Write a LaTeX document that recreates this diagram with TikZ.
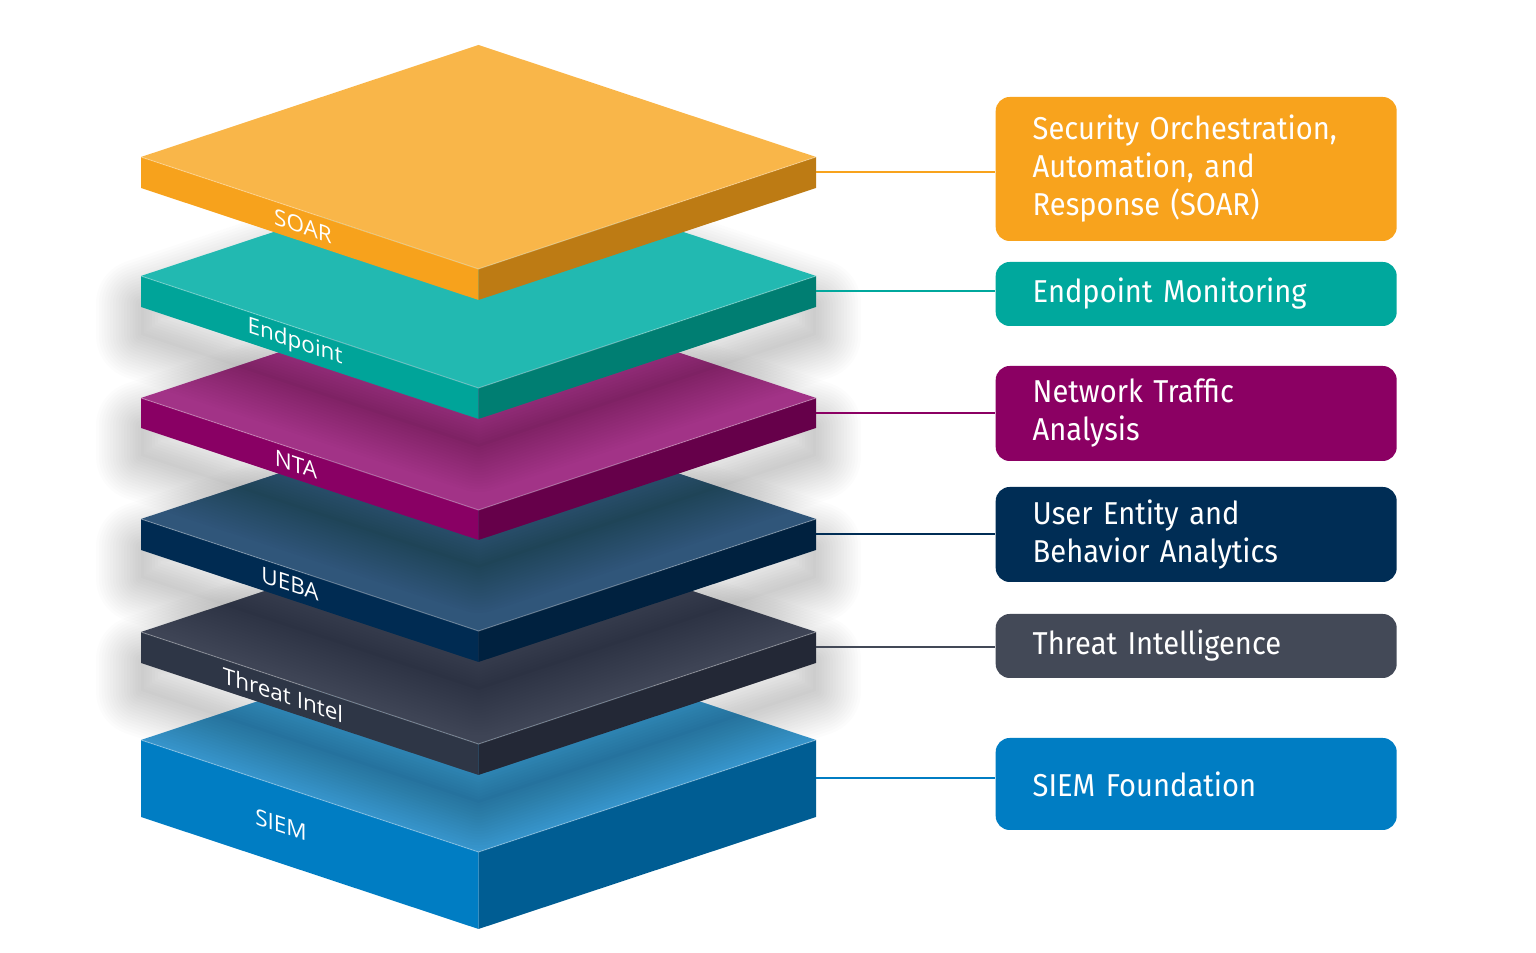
\documentclass[tikz,border=0pt]{standalone}
\usepackage{fontspec}
\setsansfont{Open Sans}
\newfontfamily\boxfont[FakeStretch=0.92]{Fira Sans}
\usepackage{xcolor}
\usepackage{tikz}
\hyphenpenalty=10000
\definecolor{soartop}{HTML}{F9B649}
\definecolor{soarleft}{HTML}{F7A21C}
\definecolor{soarright}{HTML}{BD7B14}
\definecolor{soarbox}{HTML}{F8A31D}
\definecolor{endtop}{HTML}{22B9B1}
\definecolor{endleft}{HTML}{00A499}
\definecolor{endright}{HTML}{007E72}
\definecolor{endbox}{HTML}{00A89D}
\definecolor{ntatop}{HTML}{A23387}
\definecolor{ntaleft}{HTML}{890064}
\definecolor{ntaright}{HTML}{66004A}
\definecolor{ntabox}{HTML}{8B0063}
\definecolor{uebatop}{HTML}{30567A}
\definecolor{uebaleft}{HTML}{002B52}
\definecolor{uebaright}{HTML}{00213F}
\definecolor{uebabox}{HTML}{002D55}
\definecolor{threattop}{HTML}{3E4455}
\definecolor{threatleft}{HTML}{2E3646}
\definecolor{threatright}{HTML}{232836}
\definecolor{threatbox}{HTML}{434957}
\definecolor{siemtop}{HTML}{3795CC}
\definecolor{siemleft}{HTML}{007DC3}
\definecolor{siemright}{HTML}{005D93}
\definecolor{siembox}{HTML}{007DC3}

% one slab: #1 y of left corner, #2 thickness, #3-#5 colours, #6 label, #7 label x, #8 name
\newcommand{\slab}[8]{%
  \fill[#4] (141,#1) -- (478.5,#1+112) -- (478.5,#1+112+#2) -- (141,#1+#2) -- cycle;
  \fill[#5] (478.5,#1+112) -- (816,#1) -- (816,#1+#2) -- (478.5,#1+112+#2) -- cycle;
  \fill[#3] (141,#1) -- (478.5,#1-112) -- (816,#1) -- (478.5,#1+112) -- cycle;
  \draw[white, opacity=.3, line width=.1mm] (141,#1) -- (478.5,#1+112) -- (816,#1);
  \node[slablabel] (#8label) at (#7,{#1+#2/2+(#7-141)*0.3314}) {#6};
  \coordinate (#8) at (816,#1+#2/2);
}
% soft shadow under a slab
\newcommand{\slabshadow}[2]{%
  \fill[black, opacity=.02]
    (141,#1+28) -- (478.5,#1-84) -- (816,#1+28) -- (816,#1+#2+28) -- (478.5,#1+#2+140) -- (141,#1+#2+28) -- cycle;
  \foreach \w in {1,...,16}
    \draw[black, opacity=.011, line width=1.6*\w pt, line join=round]
      (141,#1+28) -- (478.5,#1-84) -- (816,#1+28) -- (816,#1+#2+28) -- (478.5,#1+#2+140) -- (141,#1+#2+28) -- cycle;
}

\begin{document}
\begin{tikzpicture}[x=0.1mm, y=-0.1mm,
  slablabel/.style={text=white, font=\sffamily\fontsize{6.4}{7}\selectfont, transform shape, yslant=-0.3314, inner sep=0pt},
  infobox/.style={anchor=west, rounded corners=1.4mm, minimum width=40.1mm, text width=32.7mm, inner xsep=3.7mm, align=left, text=white, font=\boxfont\fontsize{9}{10.8}\selectfont},
  link/.style={line width=0.2mm}]
\useasboundingbox (0,0) rectangle (1536,953);

% stack, bottom first
\slab{740}{77}{siemtop}{siemleft}{siemright}{SIEM}{281}{siem}
\slabshadow{632}{31}
\slab{632}{31}{threattop}{threatleft}{threatright}{Threat Intel}{283}{threat}
\slabshadow{519}{31}
\slab{519}{31}{uebatop}{uebaleft}{uebaright}{UEBA}{290}{ueba}
\slabshadow{398}{30}
\slab{398}{30}{ntatop}{ntaleft}{ntaright}{NTA}{296}{nta}
\slabshadow{276}{31}
\slab{276}{31}{endtop}{endleft}{endright}{Endpoint}{295}{endpoint}
\slab{157}{31}{soartop}{soarleft}{soarright}{SOAR}{303}{soar}

% boxes
\node[infobox, fill=soarbox, minimum height=14.4mm] (soarinfo) at (995,169) {Security Orchestration,\\ Automation, and\\ Response (SOAR)};
\node[infobox, fill=endbox, minimum height=6.4mm] (endinfo) at (995,294) {Endpoint Monitoring};
\node[infobox, fill=ntabox, minimum height=9.5mm] (ntainfo) at (995,413.5) {Network Traffic\\ Analysis};
\node[infobox, fill=uebabox, minimum height=9.5mm] (uebainfo) at (995,534.5) {User Entity and\\ Behavior Analytics};
\node[infobox, fill=threatbox, minimum height=6.4mm] (threatinfo) at (995,646) {Threat Intelligence};
\node[infobox, fill=siembox, minimum height=9.2mm] (sieminfo) at (995,784) {SIEM Foundation};

% links
\draw[link, soarbox] (soar) -- (soar -| soarinfo.west);
\draw[link, endbox] (endpoint) -- (endpoint -| endinfo.west);
\draw[link, ntabox] (nta) -- (nta -| ntainfo.west);
\draw[link, uebabox] (ueba) -- (ueba -| uebainfo.west);
\draw[link, threatbox] (threat) -- (threat -| threatinfo.west);
\draw[link, siembox] (siem) -- (siem -| sieminfo.west);
\end{tikzpicture}
\end{document}
